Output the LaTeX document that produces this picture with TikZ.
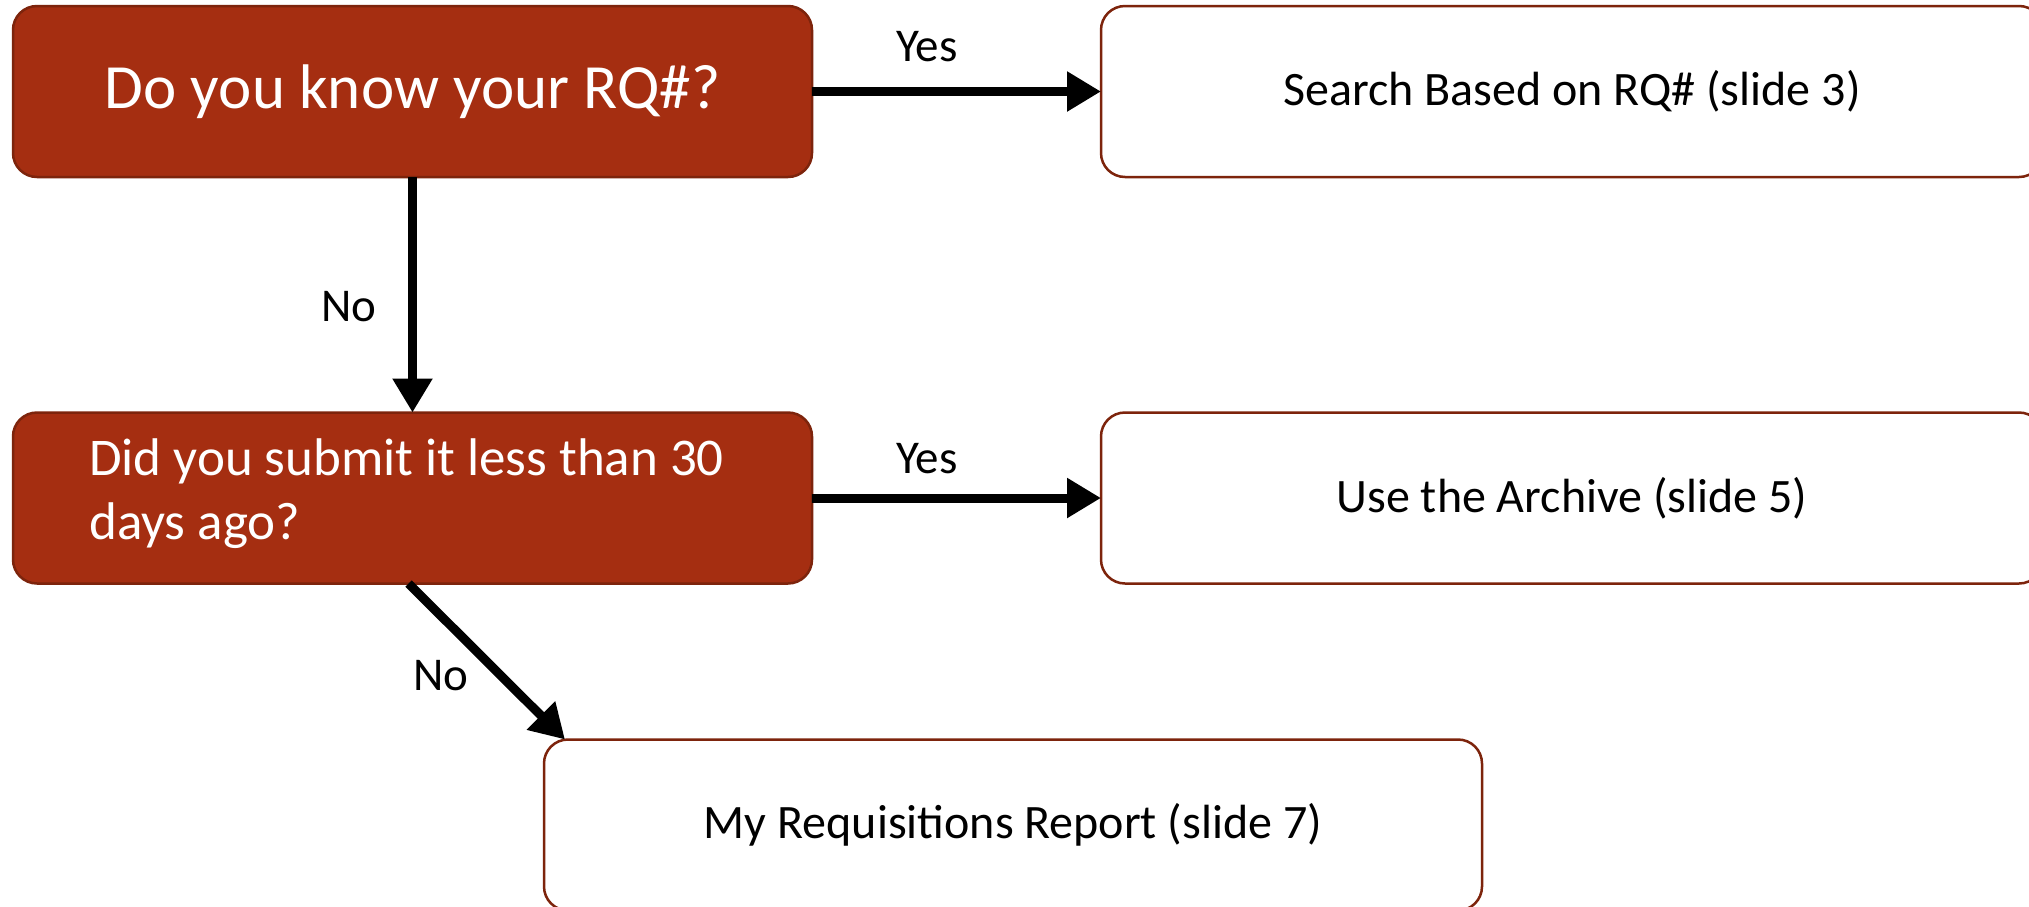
\documentclass[tikz,border=0pt]{standalone}
\usepackage{fontspec}
\setmainfont{Carlito}
\usetikzlibrary{arrows.meta,positioning,calc}
\definecolor{qfill}{RGB}{165,46,17}
\definecolor{qedge}{RGB}{125,36,12}
\begin{document}
\begin{tikzpicture}[x=1pt,y=-1pt,
  basebox/.style={rectangle, rounded corners=24pt, line width=2.5pt, draw=qedge,
    minimum height=171pt, inner sep=0pt, outer sep=0pt},
  qbox/.style={basebox, fill=qfill, text=white, minimum width=799pt},
  abox/.style={basebox, fill=white, text=black,
    font={\fontsize{48pt}{56pt}\selectfont}},
  bigq/.style={font={\fontsize{63pt}{75pt}\selectfont}},
  qtwo/.style={text=white, align=left, inner sep=0pt,
    font={\fontsize{53pt}{64pt}\selectfont}},
  lbl/.style={font={\fontsize{47pt}{54pt}\selectfont}, inner sep=0pt},
  flow/.style={line width=9pt, -{Triangle[length=34pt,width=38pt]}}
]
\clip (0,0) rectangle (2029,906);
\fill[white] (0,0) rectangle (2029,906);

\node[qbox, bigq] (b1) at (412.5,91.5) {Do you know your RQ\#?};
\node[abox, minimum width=942pt] (b2) at (1572,91.5) {Search Based on RQ\# (slide 3)};
\node[qbox] (b3) at (412.5,498) {};
\node[qtwo, anchor=west] (t3) at ([xshift=76pt,yshift=4pt]b3.west)
  {Did you submit it less than 30\\days ago?};
\node[abox, minimum width=942pt] (b4) at (1572,498) {Use the Archive (slide 5)};
\node[abox, minimum width=938pt] (b5) at (1013,825) {My Requisitions Report (slide 7)};

\draw[flow] (b1.east) -- (b2.west);
\draw[flow] (b1.south) -- (b3.north);
\draw[flow] (b3.east) -- (b4.west);
\coordinate (d1) at ([xshift=-4pt]b3.south);
\coordinate (d2) at ([xshift=21pt]b5.north west);
\draw[flow] (d1) -- (d2);

\node[lbl] (y1) at (927,47) {Yes};
\node[lbl] (y2) at (927,459) {Yes};
\node[lbl] (n1) at (349,307) {No};
\node[lbl] (n2) at (441,676) {No};
\end{tikzpicture}
\end{document}
